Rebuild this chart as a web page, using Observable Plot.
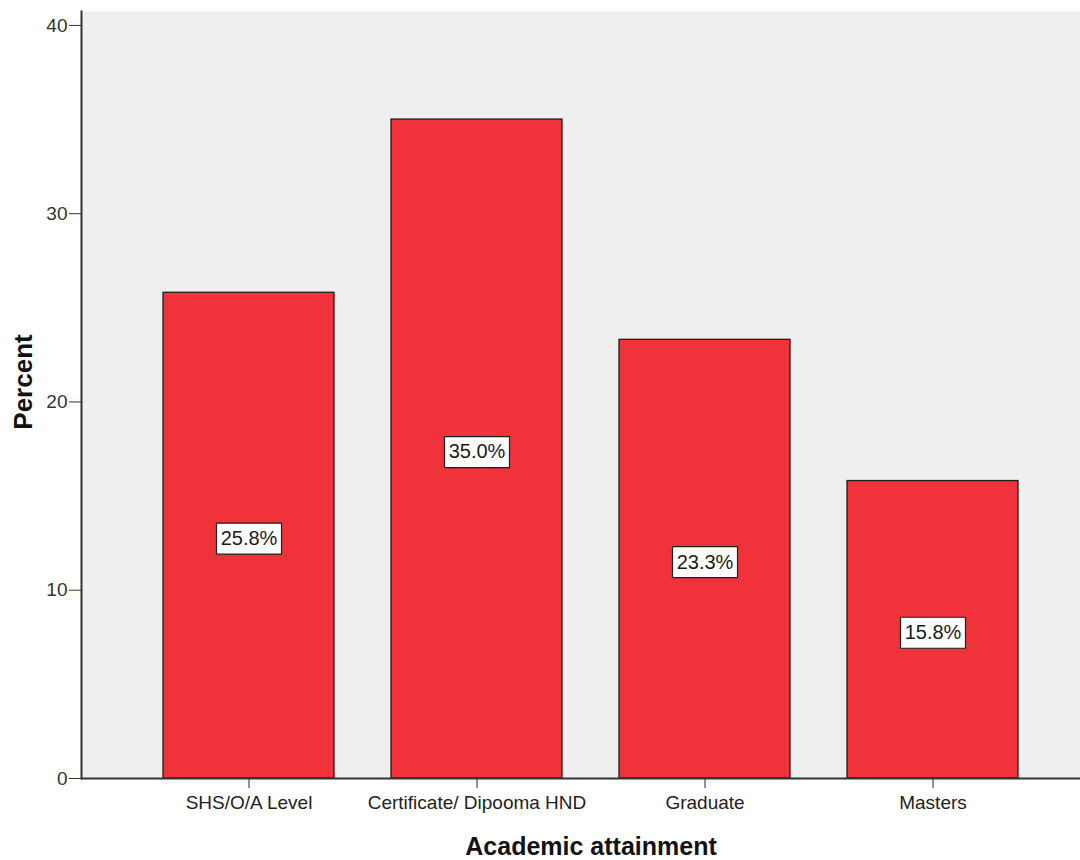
<!DOCTYPE html>
<html><head><meta charset="utf-8">
<script src="https://cdn.jsdelivr.net/npm/d3@7"></script>
<script src="https://cdn.jsdelivr.net/npm/@observablehq/plot@0.6"></script>
<style>body{margin:0;background:#fff} svg{display:block}</style>
</head><body><div id="chart"></div>
<script>
// Share of respondents by highest academic attainment
const categories = ["SHS/O/A Level", "Certificate/ Dipooma HND", "Graduate", "Masters"];
const percents = [25.8, 35.0, 23.3, 15.8];
const yTicks = [0, 10, 20, 30, 40];

const rows = categories.map((c, i) => ({category: c, percent: percents[i]}));

// rectangular box symbol used behind each value label
const labelBox = {draw(ctx) { ctx.rect(-32.5, -15.5, 65, 31); }};

const chart = Plot.plot({
  width: 1080,
  height: 860,
  marginLeft: 81,
  marginRight: 0,
  marginTop: 11,
  marginBottom: 82,
  style: {fontFamily: "'Liberation Sans', Arial, sans-serif", background: "#fff"},
  x: {domain: categories, range: [81, 1100], paddingInner: 0.252, paddingOuter: 0.354, label: null},
  y: {domain: [0, 40.74], label: null},
  marks: [
    Plot.frame({fill: "#efefef", stroke: null}),
    Plot.barY(rows, {x: "category", y: "percent", fill: "#f0323a", stroke: "#1e1e1e", strokeWidth: 1.3}),
    Plot.dot(rows, {x: "category", y: d => d.percent / 2, dy: 3, symbol: labelBox, r: 10,
      fill: "#fff", stroke: "#1e1e1e", strokeWidth: 1.2}),
    Plot.text(rows, {x: "category", y: d => d.percent / 2, dy: 3, text: d => d.percent.toFixed(1) + "%",
      fontSize: 20, fill: "#1a1a1a"}),
    Plot.axisY({ticks: yTicks, tickSize: 12, tickPadding: 2, fontSize: 19, color: "#333", label: null}),
    Plot.axisX({tickSize: 10, tickPadding: 7, fontSize: 19, color: "#222", label: null}),
    Plot.frame({anchor: "left", stroke: "#333", strokeWidth: 2}),
    Plot.ruleY([0], {stroke: "#333", strokeWidth: 2}),
    Plot.text(["Percent"], {frameAnchor: "left", textAnchor: "middle", rotate: -90, dx: -58, dy: -13,
      fontSize: 26, fontWeight: "bold", fill: "#111"}),
    Plot.text(["Academic attainment"], {frameAnchor: "bottom", lineAnchor: "middle", dx: 10, dy: 68,
      fontSize: 25, fontWeight: "bold", fill: "#111"})
  ]
});
document.getElementById("chart").append(chart);
</script>
</body></html>
